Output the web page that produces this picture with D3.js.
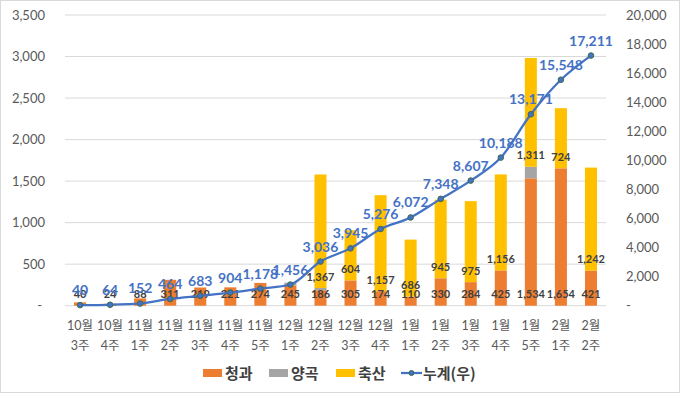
<!DOCTYPE html>
<html>
<head>
    <meta charset="utf-8">
    <script src="https://d3js.org/d3.v7.min.js"></script>
    <style>
        body { margin: 0; background: #fff; }
        svg { display: block; font-family: "Lato", "Noto Sans CJK KR", sans-serif; }
    </style>
</head>
<body>
<svg id="chart"></svg>
<script>
const months = ["10월","10월","11월","11월","11월","11월","11월","12월","12월","12월","12월","1월","1월","1월","1월","1월","2월","2월"];
const weeks  = ["3주","4주","1주","2주","3주","4주","5주","1주","2주","3주","4주","1주","2주","3주","4주","5주","1주","2주"];
const fruit  = [40, 24, 88, 311, 219, 221, 274, 245, 186, 305, 174, 110, 330, 284, 425, 1534, 1654, 421];
const grain  = [0, 0, 0, 1, 0, 0, 0, 33, 27, 0, 0, 0, 1, 0, 0, 138, 0, 0];
const meat   = [0, 0, 0, 0, 0, 0, 0, 0, 1367, 604, 1157, 686, 945, 975, 1156, 1311, 724, 1242];
const total  = [40, 64, 152, 464, 683, 904, 1178, 1456, 3036, 3945, 5276, 6072, 7348, 8607, 10188, 13171, 15548, 17211];
const leftTicks  = [0, 500, 1000, 1500, 2000, 2500, 3000, 3500];
const rightTicks = [0, 2000, 4000, 6000, 8000, 10000, 12000, 14000, 16000, 18000, 20000];

const W = 680, H = 393;
const plotL = 65, plotR = 606, plotT = 15, plotB = 305.7;

const svg = d3.select('#chart').attr('width', W).attr('height', H);

svg.append('rect')
    .attr('x', 0.5).attr('y', 0.5)
    .attr('width', W - 1).attr('height', H - 1)
    .attr('fill', '#fff').attr('stroke', '#d9d9d9');

const idx = d3.range(months.length);
const x = d3.scaleBand().domain(idx).range([plotL, plotR]).paddingInner(0.6).paddingOuter(0.3);
const yL = d3.scaleLinear().domain([0, 3500]).range([plotB, plotT]);
const yR = d3.scaleLinear().domain([0, 20000]).range([plotB, plotT]);
const fmt = d3.format(',');

// gridlines
svg.append('g').selectAll('line').data(leftTicks).join('line')
    .attr('x1', plotL).attr('x2', plotR)
    .attr('y1', d => yL(d)).attr('y2', d => yL(d))
    .attr('stroke', '#d9d9d9').attr('stroke-width', 1);

// left axis
const axL = svg.append('g')
    .attr('transform', `translate(${plotL - 17},0)`)
    .call(d3.axisLeft(yL).tickValues(leftTicks).tickSize(0).tickFormat(d => d === 0 ? '-' : fmt(d)));
axL.select('.domain').remove();
axL.selectAll('text').attr('fill', '#595959').attr('font-size', 13).attr('font-family', '"Lato", sans-serif')
    .attr('dx', d => d === 0 ? -3 : 0);

// right axis
const axR = svg.append('g')
    .attr('transform', `translate(${plotR + 20},0)`)
    .call(d3.axisRight(yR).tickValues(rightTicks).tickSize(0).tickFormat(d => d === 0 ? '-' : fmt(d)));
axR.select('.domain').remove();
axR.selectAll('text').attr('fill', '#595959').attr('font-size', 13).attr('font-family', '"Lato", sans-serif')
    .attr('x', 0);

// stacked bars
const stackData = idx.map(i => ({ i, fruit: fruit[i], grain: grain[i], meat: meat[i] }));
const keys = ['fruit', 'grain', 'meat'];
const colors = { fruit: '#ED7D31', grain: '#A5A5A5', meat: '#FFC000' };
const series = d3.stack().keys(keys)(stackData);

svg.append('g').selectAll('g').data(series).join('g')
    .attr('fill', s => colors[s.key])
    .selectAll('rect').data(s => s).join('rect')
    .attr('x', d => x(d.data.i))
    .attr('width', x.bandwidth())
    .attr('y', d => yL(d[1]))
    .attr('height', d => yL(d[0]) - yL(d[1]));

// x labels
const xl = svg.append('g');
idx.forEach(i => {
    const cx = x(i) + x.bandwidth() / 2;
    xl.append('text').attr('x', cx).attr('y', 330).attr('text-anchor', 'middle')
        .attr('font-size', 12.5).attr('fill', '#595959').text(months[i]);
    xl.append('text').attr('x', cx).attr('y', 350).attr('text-anchor', 'middle')
        .attr('font-size', 12.5).attr('fill', '#595959').text(weeks[i]);
});

// bar labels (inside base)
const lbl = svg.append('g').attr('font-size', 11).attr('font-weight', 'bold').attr('fill', '#404040')
    .attr('text-anchor', 'middle');
series.filter(s => s.key !== 'grain').forEach(s => {
    s.forEach(d => {
        const v = d[1] - d[0];
        if (v <= 0) return;
        lbl.append('text')
            .attr('x', x(d.data.i) + x.bandwidth() / 2)
            .attr('y', yL(d[0]) - 7.5)
            .text(fmt(v));
    });
});

// cumulative line
const line = d3.line()
    .x((d, i) => x(i) + x.bandwidth() / 2)
    .y(d => yR(d))
    .curve(d3.curveMonotoneX);
svg.append('path').datum(total)
    .attr('d', line).attr('fill', 'none')
    .attr('stroke', '#4472C4').attr('stroke-width', 2.25);
svg.append('g').selectAll('circle').data(total).join('circle')
    .attr('cx', (d, i) => x(i) + x.bandwidth() / 2)
    .attr('cy', d => yR(d))
    .attr('r', 2.8)
    .attr('fill', '#4472C4').attr('stroke', '#3d6b4f').attr('stroke-width', 1);
svg.append('g').selectAll('text').data(total).join('text')
    .attr('x', (d, i) => x(i) + x.bandwidth() / 2)
    .attr('y', d => yR(d) - 10)
    .attr('text-anchor', 'middle')
    .attr('font-size', 14).attr('font-weight', 'bold').attr('fill', '#4472C4')
    .text(d => fmt(d));

// legend
const legendItems = [
    { name: '청과', color: colors.fruit, type: 'rect', x: 203 },
    { name: '양곡', color: colors.grain, type: 'rect', x: 269 },
    { name: '축산', color: colors.meat, type: 'rect', x: 336 },
    { name: '누계(우)', color: '#4472C4', type: 'line', x: 401 }
];
const lg = svg.append('g');
legendItems.forEach(it => {
    if (it.type === 'rect') {
        lg.append('rect').attr('x', it.x).attr('y', 369).attr('width', 19).attr('height', 8).attr('fill', it.color);
    } else {
        lg.append('line').attr('x1', it.x).attr('x2', it.x + 21).attr('y1', 373).attr('y2', 373)
            .attr('stroke', it.color).attr('stroke-width', 2.25);
        lg.append('circle').attr('cx', it.x + 10.5).attr('cy', 373).attr('r', 2.5)
            .attr('fill', it.color).attr('stroke', '#3d6b4f');
    }
    lg.append('text').attr('x', it.x + 22).attr('y', 378.5)
        .attr('font-size', 15).attr('font-weight', 'bold').attr('fill', '#404040')
        .attr('font-family', '"Noto Sans CJK KR", sans-serif')
        .text(it.name);
});
</script>
</body>
</html>
